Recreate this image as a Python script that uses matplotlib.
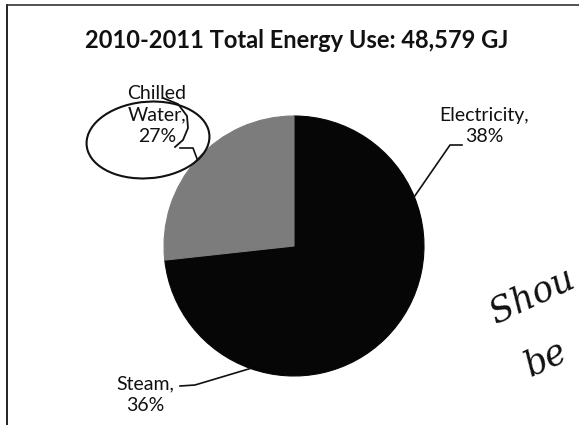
import matplotlib as mpl
mpl.use('Agg')
import matplotlib.pyplot as plt
from matplotlib.lines import Line2D
from matplotlib.patches import Ellipse
import numpy as np

# energy use shares, 2010-2011
sources = ['Electricity', 'Steam', 'Chilled Water']
shares = [38, 36, 27]
colors = ['#060606', '#060606', '#7c7c7c']
title = '2010-2011 Total Energy Use: 48,579 GJ'

W, H = 579, 425
plt.rcParams['font.family'] = ['Lato', 'DejaVu Sans']

fig = plt.figure(figsize=(W / 100., H / 100.), dpi=100)
fig.patch.set_facecolor('white')

# pie centre and radius in figure pixels (top-left origin)
cx, cy, rad = 294, 246, 130
ax = fig.add_axes([(cx - rad) / W, (H - cy - rad) / H, 2 * rad / W, 2 * rad / H])
wedges, _ = ax.pie(shares, colors=colors, startangle=90, counterclock=False,
                   radius=1, wedgeprops=dict(linewidth=0.8))
for w, c in zip(wedges, colors):
    w.set_edgecolor(c)   # hide the seam between the two black slices
ax.set_xlim(-1, 1)
ax.set_ylim(-1, 1)
ax.set_aspect('equal')
ax.axis('off')

def px(x, y):
    # figure pixel -> pie data coords
    return (x - cx) / float(rad), (cy - y) / float(rad)

def mid(w):
    a = np.deg2rad((w.theta1 + w.theta2) / 2.)
    return np.cos(a), np.sin(a)

# label text positions and leader elbows (figure pixels)
lab = {
    'Electricity': dict(txt=(484, 126), knee=(450, 145), end=(462, 145)),
    'Steam': dict(txt=(145, 395), knee=(195, 385), end=(180, 386)),
    'Chilled Water': dict(txt=(157, 115), knee=(193, 148), end=(180, 148)),
}
text_lines = {
    'Electricity': 'Electricity,\n{}%',
    'Steam': 'Steam,\n{}%',
    'Chilled Water': 'Chilled\nWater,\n{}%',
}
for w, name, val in zip(wedges, sources, shares):
    L = lab[name]
    tx, ty = px(*L['txt'])
    ax.text(tx, ty, text_lines[name].format(val), ha='center', va='center',
            fontsize=14, linespacing=1.35, color='#111111', clip_on=False)
    mx, my = mid(w)
    kx, ky = px(*L['knee'])
    ex, ey = px(*L['end'])
    ax.plot([mx, kx, ex], [my, ky, ey], color='#111111', lw=1.2, clip_on=False)

fig.text(297 / W, 1 - 40 / H, title, ha='center', va='center',
         fontsize=17, fontweight='bold', color='#111111')

# scanned page frame
fig.add_artist(Line2D([7 / W, 7 / W], [0, 1 - 5 / H], color='#222222', lw=1.4))
fig.add_artist(Line2D([7 / W, 1], [1 - 5 / H, 1 - 5 / H], color='#333333', lw=1.2))

# pen marks: loop round the chilled water label and a note on the right
loop = Ellipse((148 / W, 1 - 140 / H), 124 / W, 76 / H, angle=14, fill=False,
               edgecolor='#111111', lw=1.5, transform=fig.transFigure)
fig.add_artist(loop)
curl_x = np.array([163, 178, 187, 188, 183, 175])
curl_y = np.array([98, 104, 116, 128, 140, 147])
fig.add_artist(Line2D(curl_x / W, 1 - curl_y / H, color='#111111', lw=1.3))
fig.text(532 / W, 1 - 296 / H, 'Shou', rotation=25, ha='center', va='center',
         fontsize=25, style='italic', family='DejaVu Serif', fontweight='light',
         color='#111111')
fig.text(545 / W, 1 - 358 / H, 'be', rotation=25, ha='center', va='center',
         fontsize=25, style='italic', family='DejaVu Serif', fontweight='light',
         color='#111111')

plt.savefig('out.png', dpi=100)
plt.close('all')
